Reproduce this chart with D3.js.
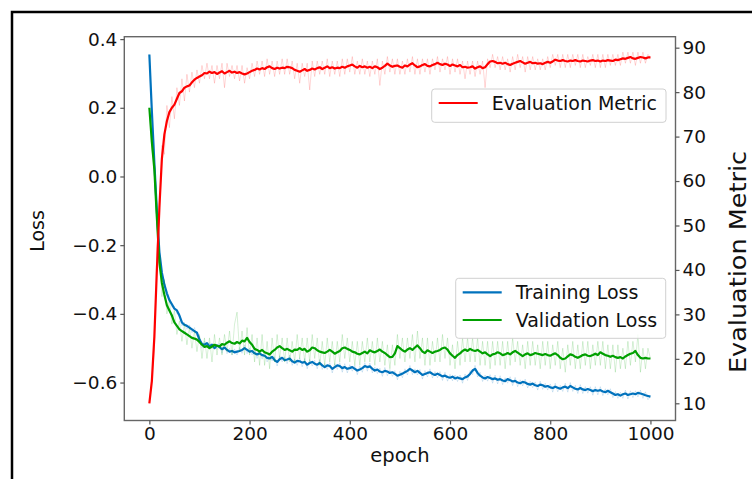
<!DOCTYPE html>
<html>
<head>
<meta charset="utf-8">
<script src="https://cdn.jsdelivr.net/npm/d3@7"></script>
<style>
  body { margin: 0; background: #fff; }
  text { font-family: "DejaVu Sans", sans-serif; fill: #111; }
</style>
</head>
<body>
<svg id="chart" width="752" height="479"></svg>
<script>
// epochs sampled every 5
const epochs = d3.range(0, 1001, 5);

// smoothed curves
const trainLoss = [
  0.355, 0.19, 0.04, -0.10, -0.22, -0.28, -0.315, -0.34, -0.36, -0.372, -0.385, -0.39, -0.405, -0.425, -0.432, -0.435, -0.44, -0.445, -0.45, -0.455,
  -0.475, -0.488, -0.49, -0.485, -0.495, -0.49, -0.5, -0.492, -0.497, -0.503, -0.498, -0.505, -0.51, -0.508, -0.512, -0.51, -0.508, -0.505, -0.5, -0.505,
  -0.51, -0.508, -0.515, -0.518, -0.515, -0.52, -0.522, -0.528, -0.53, -0.525, -0.535, -0.54, -0.532, -0.528, -0.535, -0.533, -0.53, -0.538, -0.542, -0.537,
  -0.538, -0.542, -0.54, -0.548, -0.543, -0.54, -0.545, -0.548, -0.543, -0.55, -0.555, -0.55, -0.552, -0.56, -0.555, -0.55, -0.552, -0.558, -0.555, -0.56,
  -0.558, -0.555, -0.56, -0.565, -0.562, -0.558, -0.552, -0.555, -0.553, -0.56, -0.565, -0.562, -0.568, -0.57, -0.566, -0.568, -0.572, -0.57, -0.575, -0.58,
  -0.577, -0.574, -0.57, -0.566, -0.56, -0.565, -0.57, -0.566, -0.572, -0.578, -0.575, -0.572, -0.57, -0.575, -0.578, -0.574, -0.578, -0.582, -0.58, -0.584,
  -0.586, -0.583, -0.588, -0.585, -0.588, -0.59, -0.585, -0.582, -0.575, -0.565, -0.56, -0.572, -0.58, -0.585, -0.588, -0.584, -0.587, -0.59, -0.588, -0.592,
  -0.59, -0.594, -0.596, -0.59, -0.593, -0.597, -0.595, -0.6, -0.602, -0.598, -0.6, -0.604, -0.606, -0.603, -0.608, -0.61, -0.606, -0.608, -0.612, -0.61,
  -0.614, -0.616, -0.612, -0.615, -0.618, -0.614, -0.612, -0.616, -0.61, -0.614, -0.618, -0.62, -0.616, -0.62, -0.622, -0.619, -0.622, -0.625, -0.622, -0.624,
  -0.622, -0.626, -0.628, -0.624, -0.628, -0.632, -0.636, -0.634, -0.638, -0.634, -0.632, -0.636, -0.634, -0.632, -0.634, -0.63, -0.632, -0.634, -0.637, -0.639,
  -0.641
];
const valLoss = [
  0.2, 0.1, 0.02, -0.12, -0.25, -0.31, -0.345, -0.375, -0.39, -0.405, -0.425, -0.435, -0.445, -0.45, -0.455, -0.46, -0.465, -0.47, -0.472, -0.475,
  -0.482, -0.49, -0.496, -0.494, -0.5, -0.495, -0.49, -0.493, -0.495, -0.488, -0.49, -0.484, -0.48, -0.485, -0.487, -0.482, -0.486, -0.478, -0.48, -0.47,
  -0.482, -0.49, -0.502, -0.505, -0.51, -0.505, -0.512, -0.515, -0.518, -0.51, -0.505, -0.498, -0.494, -0.5, -0.505, -0.502, -0.506, -0.51, -0.504, -0.505,
  -0.5, -0.505, -0.502, -0.51, -0.506, -0.498, -0.5, -0.506, -0.51, -0.512, -0.514, -0.51, -0.505, -0.51, -0.516, -0.512, -0.508, -0.5, -0.498, -0.502,
  -0.505, -0.51, -0.512, -0.516, -0.518, -0.514, -0.51, -0.515, -0.506, -0.51, -0.512, -0.508, -0.504, -0.51, -0.514, -0.52, -0.526, -0.525, -0.515, -0.494,
  -0.5, -0.506, -0.51, -0.504, -0.5, -0.505, -0.498, -0.492, -0.5, -0.51, -0.514, -0.506, -0.51, -0.514, -0.51, -0.508, -0.505, -0.5, -0.498, -0.504,
  -0.515, -0.522, -0.528, -0.52, -0.515, -0.508, -0.504, -0.508, -0.502, -0.506, -0.508, -0.505, -0.51, -0.515, -0.512, -0.518, -0.523, -0.518, -0.516, -0.512,
  -0.515, -0.52, -0.518, -0.514, -0.518, -0.512, -0.508, -0.513, -0.518, -0.523, -0.518, -0.515, -0.52, -0.518, -0.514, -0.516, -0.518, -0.52, -0.517, -0.52,
  -0.522, -0.518, -0.515, -0.52, -0.528, -0.532, -0.53, -0.524, -0.518, -0.52, -0.525, -0.528, -0.524, -0.52, -0.518, -0.522, -0.523, -0.52, -0.516, -0.52,
  -0.512, -0.516, -0.52, -0.522, -0.525, -0.522, -0.526, -0.528, -0.526, -0.53, -0.524, -0.52, -0.516, -0.514, -0.508, -0.52, -0.528, -0.53, -0.528, -0.53,
  -0.53
];
const evalMetric = [
  10, 15, 25, 40, 54, 65, 70.5, 73.5, 75.5, 76.5, 77.2, 78.5, 79.8, 80.2, 81, 81.3, 81.5, 82.2, 82.8, 83.2,
  83.5, 83.8, 84.3, 84.2, 84.6, 84.3, 84.5, 84.1, 84.4, 84.7, 84.2, 84.5, 84.8, 84.4, 84.6, 84.3, 84.5, 84.2, 84.0, 84.2,
  84.5, 84.8, 85.0, 85.3, 85.1, 85.4, 85.2, 85.6, 85.8, 85.4, 85.2, 85.5, 85.3, 85.5, 85.4, 85.7, 85.6, 85.4, 85.0, 84.8,
  84.6, 84.9, 85.2, 84.8, 85.0, 85.3, 85.1, 85.4, 85.6, 85.2, 85.5, 85.8, 85.4, 85.6, 85.3, 85.5, 85.4, 85.7, 85.5, 85.8,
  86.0, 86.2, 85.8, 85.5, 85.9, 85.6, 85.8, 85.5, 85.7, 85.4, 85.8, 85.6, 85.2, 85.5, 85.9, 86.4, 86.0, 85.7, 85.9, 86.0,
  85.7, 85.5, 86.0, 85.8, 86.2, 86.5, 86.0, 85.6, 85.8, 86.1, 86.3, 85.9, 85.8, 86.1, 86.3, 86.6, 86.3, 86.1, 86.4, 86.2,
  85.9, 86.2, 86.0, 85.8, 86.1, 85.6, 85.7, 85.5, 85.6, 85.8, 85.3, 85.6, 85.8, 85.4, 85.6, 86.3, 86.9, 87.0, 86.8, 86.5,
  86.6, 86.4, 86.6, 86.3, 86.1, 86.4, 86.6, 86.8, 87.0, 86.7, 86.4, 86.6, 86.8, 86.5, 86.6, 86.4, 86.5, 86.3, 86.6, 86.8,
  86.6, 86.9, 87.3, 87.1, 87.0, 87.2, 87.0, 86.9, 87.1, 87.0, 87.2, 87.0, 86.9, 87.1, 87.0, 86.9, 87.1, 87.2, 87.0, 87.1,
  86.9, 87.1, 87.0, 87.2, 87.1, 87.0, 87.3, 87.2, 87.4, 87.6, 87.5, 87.7, 87.9, 87.6, 87.5, 87.7, 87.9, 87.8, 87.6, 87.8,
  87.8
];

// raw (unsmoothed) values, drawn faint behind
const trainRaw = [
  0.355, 0.18, 0.05, -0.11, -0.21, -0.29, -0.31, -0.35, -0.355, -0.38, -0.378, -0.40, -0.398, -0.435, -0.425, -0.445, -0.432, -0.455, -0.44, -0.465,
  -0.465, -0.5, -0.48, -0.498, -0.484, -0.502, -0.49, -0.504, -0.486, -0.515, -0.488, -0.516, -0.5, -0.52, -0.502, -0.52, -0.498, -0.515, -0.49, -0.516,
  -0.5, -0.52, -0.505, -0.53, -0.505, -0.532, -0.512, -0.54, -0.52, -0.537, -0.525, -0.552, -0.522, -0.54, -0.525, -0.545, -0.52, -0.55, -0.532, -0.55,
  -0.528, -0.554, -0.53, -0.56, -0.533, -0.552, -0.535, -0.56, -0.533, -0.562, -0.545, -0.562, -0.542, -0.572, -0.545, -0.562, -0.542, -0.57, -0.545, -0.572,
  -0.548, -0.567, -0.55, -0.577, -0.552, -0.57, -0.542, -0.567, -0.543, -0.572, -0.555, -0.574, -0.558, -0.582, -0.556, -0.58, -0.562, -0.582, -0.565, -0.592,
  -0.567, -0.586, -0.56, -0.578, -0.55, -0.577, -0.56, -0.578, -0.562, -0.59, -0.565, -0.584, -0.56, -0.587, -0.568, -0.586, -0.568, -0.594, -0.57, -0.596,
  -0.576, -0.595, -0.578, -0.597, -0.578, -0.602, -0.575, -0.594, -0.565, -0.577, -0.55, -0.584, -0.57, -0.597, -0.578, -0.596, -0.577, -0.602, -0.578, -0.604,
  -0.58, -0.606, -0.586, -0.602, -0.583, -0.609, -0.585, -0.612, -0.592, -0.61, -0.59, -0.616, -0.596, -0.615, -0.598, -0.622, -0.596, -0.62, -0.602, -0.622,
  -0.604, -0.628, -0.602, -0.627, -0.608, -0.626, -0.602, -0.628, -0.6, -0.626, -0.608, -0.632, -0.606, -0.632, -0.612, -0.631, -0.612, -0.637, -0.612, -0.636,
  -0.612, -0.638, -0.618, -0.636, -0.618, -0.644, -0.626, -0.646, -0.628, -0.646, -0.622, -0.648, -0.624, -0.644, -0.624, -0.642, -0.622, -0.646, -0.627, -0.65,
  -0.641
];
const valRaw = [
  0.2, 0.08, 0.03, -0.15, -0.22, -0.35, -0.30, -0.40, -0.36, -0.43, -0.39, -0.46, -0.42, -0.48, -0.43, -0.49, -0.44, -0.5, -0.45, -0.51,
  -0.46, -0.53, -0.47, -0.53, -0.47, -0.54, -0.46, -0.52, -0.47, -0.52, -0.46, -0.51, -0.45, -0.52, -0.43, -0.395, -0.51, -0.45, -0.52, -0.44,
  -0.52, -0.46, -0.54, -0.47, -0.55, -0.46, -0.55, -0.48, -0.56, -0.47, -0.54, -0.46, -0.53, -0.47, -0.54, -0.47, -0.54, -0.48, -0.54, -0.46,
  -0.53, -0.47, -0.54, -0.47, -0.54, -0.46, -0.53, -0.47, -0.55, -0.48, -0.55, -0.47, -0.54, -0.48, -0.55, -0.48, -0.54, -0.46, -0.53, -0.47,
  -0.54, -0.48, -0.55, -0.48, -0.55, -0.48, -0.54, -0.47, -0.54, -0.48, -0.55, -0.47, -0.54, -0.48, -0.55, -0.49, -0.56, -0.49, -0.55, -0.46,
  -0.53, -0.47, -0.54, -0.47, -0.53, -0.46, -0.54, -0.45, -0.53, -0.47, -0.55, -0.47, -0.55, -0.48, -0.54, -0.47, -0.54, -0.46, -0.53, -0.47,
  -0.55, -0.49, -0.56, -0.48, -0.55, -0.47, -0.54, -0.47, -0.54, -0.47, -0.54, -0.47, -0.55, -0.48, -0.55, -0.48, -0.56, -0.48, -0.55, -0.48,
  -0.55, -0.48, -0.56, -0.48, -0.55, -0.47, -0.54, -0.48, -0.55, -0.49, -0.56, -0.48, -0.55, -0.48, -0.55, -0.49, -0.56, -0.48, -0.55, -0.48,
  -0.56, -0.49, -0.55, -0.48, -0.56, -0.5, -0.57, -0.49, -0.55, -0.48, -0.56, -0.49, -0.56, -0.48, -0.55, -0.48, -0.56, -0.49, -0.55, -0.48,
  -0.55, -0.48, -0.56, -0.49, -0.56, -0.49, -0.57, -0.49, -0.56, -0.5, -0.56, -0.48, -0.55, -0.48, -0.54, -0.46, -0.57, -0.5, -0.56, -0.5,
  -0.53
];
const metricRaw = [
  10, 16, 22, 45, 50, 68, 66, 77, 72, 79, 74, 81, 77, 83, 78, 84, 80, 84.5, 81, 85,
  82, 86, 83, 86.5, 83, 86, 82, 86, 83, 86.5, 81, 86.5, 83.5, 86, 83, 86, 82.5, 86, 82, 85.5,
  83, 86.5, 83.5, 87, 84, 87, 83.5, 87.5, 84, 87, 83.5, 87, 84, 87.5, 84, 87.5, 84, 87, 83, 86.5,
  82, 86.5, 83.5, 86.5, 80.5, 87, 83.5, 87, 84, 87, 84, 87.5, 83.5, 87, 84, 87, 83.5, 87.5, 84, 87.5,
  84.5, 88, 84, 87, 84, 87.5, 84, 87, 83.5, 87, 84, 87.5, 81.5, 87, 84, 88, 84.5, 87.5, 84, 87.5,
  84, 87, 84, 87.5, 84.5, 88, 84, 87.5, 84, 87.5, 84.5, 87.5, 84, 87.5, 85, 88, 84.5, 87.5, 85, 88,
  84, 87.5, 84.5, 87.5, 84, 87, 83, 87, 84, 87, 83.5, 87, 84, 87, 81, 87.5, 85.5, 88.5, 85.5, 88,
  85, 88, 85, 87.5, 84.5, 88, 85, 88.5, 85.5, 88, 84.5, 88, 85, 88, 85, 87.5, 85, 87.5, 85, 88,
  85.5, 88.5, 86, 88.5, 85.5, 88.5, 85.5, 88.5, 85.5, 88.5, 86, 88.5, 85.5, 88.5, 85.5, 88, 86, 88.5, 85.5, 88.5,
  85.5, 88.5, 85.5, 88.5, 86, 88.5, 86, 88.5, 86, 89, 86.5, 89, 86.5, 89, 86, 89, 86.5, 89, 86.5, 88.5,
  87.8
];

const lossTicks = [-0.6, -0.4, -0.2, 0.0, 0.2, 0.4];
const metricTicks = [10, 20, 30, 40, 50, 60, 70, 80, 90];
const epochTicks = [0, 200, 400, 600, 800, 1000];

const colors = {train: "#0072bd", val: "#00a000", metric: "#ff0000"};

const svg = d3.select("#chart");
const plot = {left: 124.3, right: 675.5, top: 36.7, bottom: 420.5};

// outer frame of the figure
svg.append("rect")
  .attr("x", 12).attr("y", 12)
  .attr("width", 800).attr("height", 500)
  .attr("fill", "none").attr("stroke", "#000").attr("stroke-width", 2.5);

const x = d3.scaleLinear().domain([-50, 1050]).range([plot.left, plot.right]);
const yLoss = d3.scaleLinear().domain([-0.7105, 0.407]).range([plot.bottom, plot.top]);
const yMetric = d3.scaleLinear().domain([6.13, 92.47]).range([plot.bottom, plot.top]);

const lineLoss = d3.line().x((d, i) => x(epochs[i])).y(d => yLoss(d));
const lineMetric = d3.line().x((d, i) => x(epochs[i])).y(d => yMetric(d));

// faint raw curves
function faint(data, line, color) {
  svg.append("path").datum(data)
    .attr("d", line).attr("fill", "none")
    .attr("stroke", color).attr("stroke-opacity", 0.16).attr("stroke-width", 1);
}
function solid(data, line, color) {
  svg.append("path").datum(data)
    .attr("d", line).attr("fill", "none")
    .attr("stroke", color).attr("stroke-width", 2.2)
    .attr("stroke-linejoin", "round");
}

faint(trainRaw, lineLoss, colors.train);
solid(trainLoss, lineLoss, colors.train);
faint(valRaw, lineLoss, colors.val);
solid(valLoss, lineLoss, colors.val);

// legend box
function legend(items, x0, y0, w, h) {
  const g = svg.append("g");
  g.append("rect").attr("x", x0).attr("y", y0).attr("width", w).attr("height", h)
    .attr("rx", 3).attr("fill", "#fff").attr("fill-opacity", 0.85)
    .attr("stroke", "#d0d0d0").attr("stroke-width", 1);
  items.forEach((it, i) => {
    const yy = y0 + 14 + i * 27.7;
    g.append("line").attr("x1", x0 + 7).attr("x2", x0 + 46)
      .attr("y1", yy).attr("y2", yy)
      .attr("stroke", it.color).attr("stroke-width", 2.2);
    g.append("text").attr("x", x0 + 60).attr("y", yy + 7)
      .style("font-size", "19px").text(it.label);
  });
}

faint(metricRaw, lineMetric, colors.metric);
solid(evalMetric, lineMetric, colors.metric);

legend([{label: "Training Loss", color: colors.train}, {label: "Validation Loss", color: colors.val}],
  455.7, 278.3, 210, 60);
legend([{label: "Evaluation Metric", color: colors.metric}], 431.7, 89, 234.3, 33.3);

// spines
svg.append("rect")
  .attr("x", plot.left).attr("y", plot.top)
  .attr("width", plot.right - plot.left).attr("height", plot.bottom - plot.top)
  .attr("fill", "none").attr("stroke", "#666").attr("stroke-width", 1.4);

function styleAxis(g) {
  g.select(".domain").remove();
  g.selectAll(".tick line").attr("stroke", "#555").attr("stroke-width", 1.2);
  g.selectAll(".tick text").style("font-size", "18.5px").attr("fill", "#111");
}

svg.append("g")
  .attr("transform", `translate(${plot.left},0)`)
  .call(d3.axisLeft(yLoss).tickValues(lossTicks).tickFormat(d3.format(".1f")).tickSize(4).tickPadding(3))
  .call(styleAxis);

svg.append("g")
  .attr("transform", `translate(${plot.right},0)`)
  .call(d3.axisRight(yMetric).tickValues(metricTicks).tickFormat(d3.format("d")).tickSize(4).tickPadding(3))
  .call(styleAxis);

svg.append("g")
  .attr("transform", `translate(0,${plot.bottom})`)
  .call(d3.axisBottom(x).tickValues(epochTicks).tickFormat(d3.format("d")).tickSize(4).tickPadding(2))
  .call(styleAxis);

// axis titles
svg.append("text")
  .attr("transform", "translate(44,231) rotate(-90)")
  .attr("text-anchor", "middle")
  .style("font-size", "19px").text("Loss");

svg.append("text")
  .attr("x", 400).attr("y", 462)
  .attr("text-anchor", "middle")
  .style("font-size", "19.5px").text("epoch");

svg.append("text")
  .attr("transform", "translate(746,262) rotate(-90)")
  .attr("text-anchor", "middle")
  .attr("textLength", 222).attr("lengthAdjust", "spacingAndGlyphs")
  .style("font-size", "23px").text("Evaluation Metric");
</script>
</body>
</html>
